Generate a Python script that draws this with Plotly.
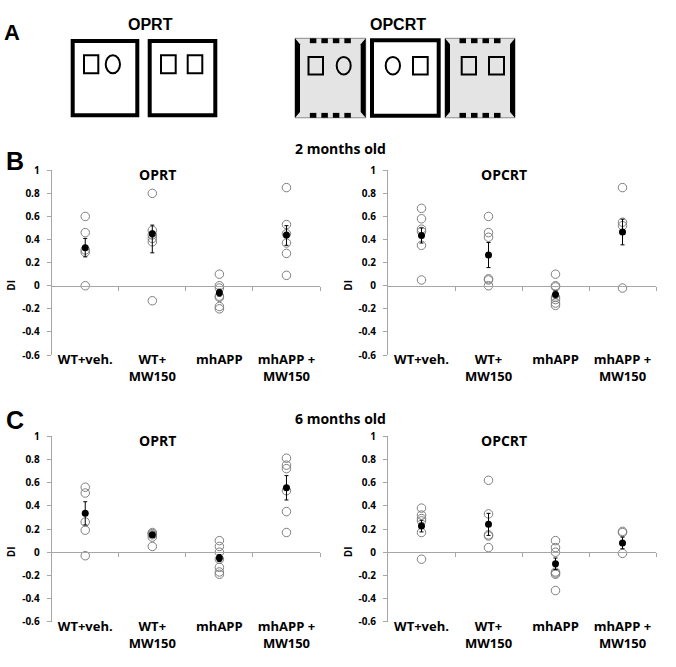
import plotly.graph_objects as go

W, H = 676, 667

CATEGORIES = ["WT+veh.", "WT+ MW150", "mhAPP", "mhAPP + MW150"]
CATEGORY_LABELS = ["WT+veh.", "WT+<br>MW150", "mhAPP", "mhAPP +<br>MW150"]
Y_TICKS = [-0.6, -0.4, -0.2, 0, 0.2, 0.4, 0.6, 0.8, 1]
Y_TICK_LABELS = ["-0.6", "-0.4", "-0.2", "0", "0.2", "0.4", "0.6", "0.8", "1"]

# ---- 2 months old, OPRT ----
B_OPRT_POINTS = [
    [0.60, 0.46, 0.31, 0.29, 0.00],
    [0.80, 0.48, 0.44, 0.41, 0.38, -0.13],
    [0.10, 0.00, -0.02, -0.09, -0.10, -0.18, -0.20],
    [0.85, 0.53, 0.45, 0.37, 0.28, 0.09],
]
B_OPRT_MEAN = [0.33, 0.45, -0.06, 0.44]
B_OPRT_ERR_UP = [0.08, 0.075, 0.03, 0.08]
B_OPRT_ERR_DN = [0.08, 0.165, 0.03, 0.09]

# ---- 2 months old, OPCRT ----
B_OPCRT_POINTS = [
    [0.67, 0.58, 0.49, 0.47, 0.35, 0.05],
    [0.60, 0.46, 0.42, 0.06, 0.05, 0.00],
    [0.10, 0.00, -0.01, -0.10, -0.12, -0.15, -0.17],
    [0.85, 0.55, 0.52, -0.02],
]
B_OPCRT_MEAN = [0.435, 0.267, -0.076, 0.466]
B_OPCRT_ERR_UP = [0.065, 0.107, 0.03, 0.11]
B_OPCRT_ERR_DN = [0.065, 0.11, 0.03, 0.112]

# ---- 6 months old, OPRT ----
C_OPRT_POINTS = [
    [0.56, 0.51, 0.26, 0.19, -0.03],
    [0.17, 0.16, 0.15, 0.13, 0.05],
    [0.10, 0.05, 0.00, -0.06, -0.13, -0.17, -0.19],
    [0.81, 0.75, 0.72, 0.53, 0.35, 0.17],
]
C_OPRT_MEAN = [0.335, 0.15, -0.05, 0.555]
C_OPRT_ERR_UP = [0.10, 0.02, 0.03, 0.105]
C_OPRT_ERR_DN = [0.10, 0.02, 0.03, 0.105]

# ---- 6 months old, OPCRT ----
C_OPCRT_POINTS = [
    [0.38, 0.32, 0.29, 0.27, 0.17, -0.06],
    [0.62, 0.33, 0.15, 0.14, 0.04],
    [0.10, 0.04, 0.00, -0.17, -0.18, -0.19, -0.33],
    [0.18, 0.17, -0.01],
]
C_OPCRT_MEAN = [0.225, 0.24, -0.10, 0.08]
C_OPCRT_ERR_UP = [0.05, 0.095, 0.05, 0.05]
C_OPCRT_ERR_DN = [0.05, 0.095, 0.05, 0.05]

PANELS = [
    ("OPRT", B_OPRT_POINTS, B_OPRT_MEAN, B_OPRT_ERR_UP, B_OPRT_ERR_DN, 0, 0),
    ("OPCRT", B_OPCRT_POINTS, B_OPCRT_MEAN, B_OPCRT_ERR_UP, B_OPCRT_ERR_DN, 1, 0),
    ("OPRT", C_OPRT_POINTS, C_OPRT_MEAN, C_OPRT_ERR_UP, C_OPRT_ERR_DN, 0, 1),
    ("OPCRT", C_OPCRT_POINTS, C_OPCRT_MEAN, C_OPCRT_ERR_UP, C_OPCRT_ERR_DN, 1, 1),
]


def px(x):
    return x / W


def py(y):
    return 1 - y / H


COL_X = [(51.7, 320.0), (388.0, 656.0)]
ROW_Y = [(166.0, 355.0), (438.0, 628.0)]
YMIN, YMAX = -0.6, 1.0
AX_GRAY = "#a6a6a6"
FONT = "Open Sans"

fig = go.Figure()
layout = dict(
    width=W, height=H,
    margin=dict(l=0, r=0, t=0, b=0),
    paper_bgcolor="white", plot_bgcolor="white",
    showlegend=False,
    font=dict(family=FONT, color="black"),
)
annotations = []
shapes = []

for i, (title, pts, mean, eup, edn, col, row) in enumerate(PANELS):
    n = i + 1
    xs = "x" if n == 1 else f"x{n}"
    ys = "y" if n == 1 else f"y{n}"
    xk = "xaxis" if n == 1 else f"xaxis{n}"
    yk = "yaxis" if n == 1 else f"yaxis{n}"
    zk = f"xaxis{n + 4}"
    zs = f"x{n + 4}"
    dx = [px(COL_X[col][0]), px(COL_X[col][1])]
    dy = [py(ROW_Y[row][1]), py(ROW_Y[row][0])]
    zero_pos = dy[0] + (0 - YMIN) / (YMAX - YMIN) * (dy[1] - dy[0])

    for cat, vals in zip(CATEGORIES, pts):
        fig.add_trace(go.Scatter(
            x=[cat] * len(vals), y=vals, mode="markers",
            xaxis=xs, yaxis=ys, hoverinfo="skip",
            marker=dict(symbol="circle-open", size=8.5, color="#7f7f7f",
                        line=dict(width=1, color="#7f7f7f")),
        ))
    fig.add_trace(go.Scatter(
        x=CATEGORIES, y=mean, mode="markers", xaxis=xs, yaxis=ys,
        marker=dict(symbol="circle", size=7, color="black"),
        error_y=dict(type="data", symmetric=False, array=eup, arrayminus=edn,
                     color="black", thickness=1, width=2),
    ))
    # dummy trace for the zero-line axis
    fig.add_trace(go.Scatter(x=[None], y=[None], xaxis=zs, yaxis=ys,
                             hoverinfo="skip", showlegend=False))

    layout[xk] = dict(
        domain=dx, anchor=ys, type="category",
        categoryorder="array", categoryarray=CATEGORIES,
        range=[-0.5, 3.5], showline=False, ticks="", showgrid=False,
        zeroline=False, tickvals=CATEGORIES, ticktext=CATEGORY_LABELS,
        tickfont=dict(size=13, family=FONT, weight="bold", color="black"),
        ticklabelstandoff=-5,
    )
    layout[zk] = dict(
        overlaying=xs, anchor="free", position=zero_pos,
        range=[-0.5, 3.5], showline=True, linecolor=AX_GRAY, linewidth=1,
        ticks="outside", ticklen=4, tickcolor=AX_GRAY, tickwidth=1,
        tickvals=[0.5, 1.5, 2.5, 3.5], showticklabels=False,
        showgrid=False, zeroline=False,
    )
    layout[yk] = dict(
        domain=dy, anchor=xs, range=[YMIN, YMAX],
        tickvals=Y_TICKS, ticktext=Y_TICK_LABELS,
        showline=True, linecolor=AX_GRAY, linewidth=1,
        ticks="outside", ticklen=4, tickcolor=AX_GRAY,
        showgrid=False, zeroline=False,
        tickfont=dict(size=10, family=FONT, weight="bold", color="black"),
        ticklabelstandoff=5,
    )
    # panel title
    tx = 157 if col == 0 else 504
    ty = 170 if row == 0 else 442
    annotations.append(dict(
        x=px(tx), y=py(ty), xref="paper", yref="paper", text=title,
        showarrow=False, xanchor="center", yanchor="middle",
        font=dict(size=14, family=FONT, weight="bold", color="black"),
    ))
    # DI axis label
    dix = 11 if col == 0 else 348
    annotations.append(dict(
        x=px(dix), y=zero_pos, xref="paper", yref="paper", text="DI",
        textangle=-90, showarrow=False, xanchor="center", yanchor="middle",
        font=dict(size=10, family=FONT, weight="bold", color="black"),
    ))

# row titles and panel letters
for txt, yy in [("2 months old", 144), ("6 months old", 420)]:
    annotations.append(dict(
        x=px(340), y=py(yy), xref="paper", yref="paper", text=txt,
        showarrow=False, xanchor="center", yanchor="middle",
        font=dict(size=14, family=FONT, weight="bold", color="black"),
    ))
for txt, xx, yy, sz in [("A", 12, 25, 22), ("B", 15, 157, 25), ("C", 15, 421, 25)]:
    annotations.append(dict(
        x=px(xx), y=py(yy), xref="paper", yref="paper", text=txt,
        showarrow=False, xanchor="center", yanchor="middle",
        font=dict(size=sz, family="Liberation Sans", weight="bold", color="black"),
    ))
for txt, xx in [("OPRT", 150), ("OPCRT", 398)]:
    annotations.append(dict(
        x=px(xx), y=py(17), xref="paper", yref="paper", text=txt,
        showarrow=False, xanchor="center", yanchor="middle",
        font=dict(size=16, family="Liberation Sans Narrow, Liberation Sans",
                  weight="bold", color="black"),
    ))


# ---- panel A schematic ----
def rect(x0, y0, x1, y1, lw=0, lc="black", fill="rgba(0,0,0,0)"):
    shapes.append(dict(type="rect", xref="paper", yref="paper",
                       x0=px(x0), x1=px(x1), y0=py(y1), y1=py(y0),
                       line=dict(width=lw, color=lc), fillcolor=fill))


def circ(x0, y0, x1, y1, lw=2):
    shapes.append(dict(type="circle", xref="paper", yref="paper",
                       x0=px(x0), x1=px(x1), y0=py(y1), y1=py(y0),
                       line=dict(width=lw, color="black"),
                       fillcolor="rgba(0,0,0,0)"))


def path(points, fill="black"):
    d = "M " + " L ".join(f"{px(a):.5f},{py(b):.5f}" for a, b in points) + " Z"
    shapes.append(dict(type="path", xref="paper", yref="paper", path=d,
                       fillcolor=fill, line=dict(width=0)))


def white_box(x0, x1, y0=31.7, y1=111.7):
    rect(x0 + 2, y0 + 2, x1 - 2, y1 - 2, lw=4)


def gray_box(x0, x1, y0=31.0, y1=112.3):
    rect(x0, y0, x1, y1, lw=1, lc="#8c8c8c", fill="#e4e4e4")
    b = 5
    path([(x0, y0), (x0 + b, y0 + 6), (x0 + b, y1 - 6), (x0, y1)])
    path([(x1, y0), (x1 - b, y0 + 6), (x1 - b, y1 - 6), (x1, y1)])
    w = x1 - x0
    start = x0 + (w - 41) / 2
    for k in range(4):
        dx0 = start + k * 11.5
        rect(dx0, y0, dx0 + 6.5, y0 + 5, fill="black")
        rect(dx0, y1 - 5, dx0 + 6.5, y1, fill="black")


sq_y = (48.3, 66.7)
white_box(70.7, 139.3)
rect(84, sq_y[0], 98.3, sq_y[1], lw=2)
circ(105.7, sq_y[0], 120, sq_y[1])
white_box(147.7, 217.3)
rect(161, sq_y[0], 175.7, sq_y[1], lw=2)
rect(187.7, sq_y[0], 202.3, sq_y[1], lw=2)

sq2 = (50, 68)
gray_box(295, 365.7)
rect(308.5, sq2[0], 323, sq2[1], lw=2)
circ(336.7, sq2[0], 350.7, sq2[1])
white_box(370, 440.7, 31, 112.3)
circ(385.7, sq2[0], 400, sq2[1])
rect(413, sq2[0], 427.7, sq2[1], lw=2)
gray_box(445, 515)
rect(461.7, sq2[0], 476, sq2[1], lw=2)
rect(489, sq2[0], 504, sq2[1], lw=2)

layout["annotations"] = annotations
layout["shapes"] = shapes
fig.update_layout(**layout)
fig.write_html(
    "out.html",
    config={"displayModeBar": False},
    post_script="document.body.style.margin='0px';document.body.style.padding='0px';",
)
